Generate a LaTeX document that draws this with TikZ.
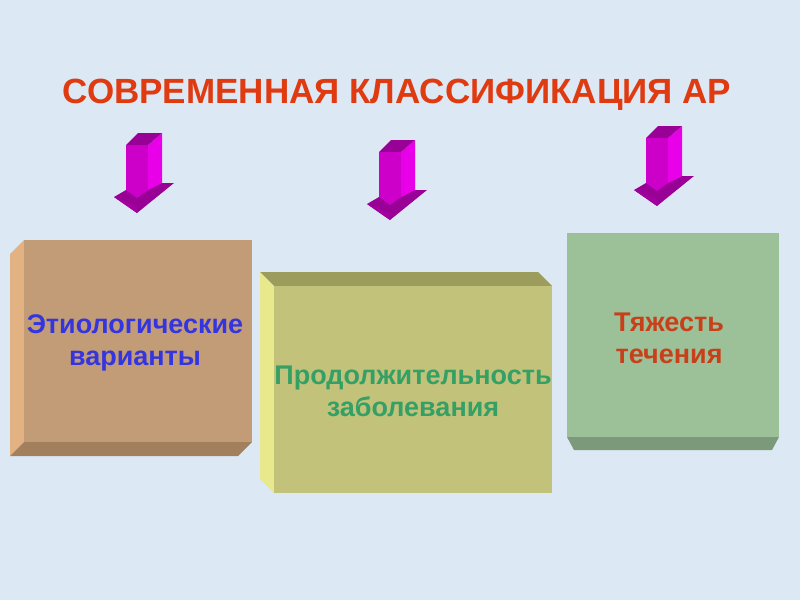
\documentclass[tikz,border=0pt]{standalone}
\usepackage{fontspec}
\setmainfont{Liberation Sans}
\definecolor{bg}{HTML}{DCE9F5}
\definecolor{ttl}{HTML}{E03A10}
\definecolor{mA}{HTML}{CC00C8}
\definecolor{mB}{HTML}{E800E8}
\definecolor{mC}{HTML}{990096}
\definecolor{bA}{HTML}{C29C76}\definecolor{bAl}{HTML}{E2B282}\definecolor{bAb}{HTML}{A2805E}
\definecolor{gA}{HTML}{C2C27A}\definecolor{gAt}{HTML}{9C9C5C}\definecolor{gAl}{HTML}{E8E88C}
\definecolor{vA}{HTML}{9CC098}\definecolor{vAb}{HTML}{7C9A7A}
\definecolor{tBlue}{HTML}{3535E0}\definecolor{tGreen}{HTML}{35A065}\definecolor{tRed}{HTML}{C8401A}
\tikzset{lbl/.style={font=\bfseries\fontsize{27}{32}\selectfont,align=center},
 arr/.pic={
  \fill[mC] (114,197)--(126,190)--(162,183)--(174,183)--(137,213)--cycle;
  \fill[mA!80!black] (114,197)--(137,213)--(137,206)--cycle;
  \fill[mB] (148,145)--(162,133)--(162,183)--(148,190)--cycle;
  \fill[mC] (126,145)--(138,133)--(162,133)--(148,145)--cycle;
  \fill[mA] (126,145) rectangle (148,190);
  \fill[mA] (126,190)--(148,190)--(137,198)--cycle;
 }}
\begin{document}
\begin{tikzpicture}[x=1pt,y=-1pt]
\fill[bg] (0,0) rectangle (800,600);
\useasboundingbox (0,0) rectangle (800,600);
\node[text=ttl,font=\bfseries\fontsize{35}{40}\selectfont] (title) at (397,95) {СОВРЕМЕННАЯ КЛАССИФИКАЦИЯ АР};
\pic at (0,0) {arr};
\pic at (253,7) {arr};
\pic at (520,-7) {arr};
% box 1
\fill[bAl] (10,254)--(24,240)--(24,442)--(10,456)--cycle;
\fill[bAb] (10,456)--(24,442)--(252,442)--(238,456)--cycle;
\fill[bA] (24,240) rectangle (252,442);
\node[lbl,text=tBlue] (b1) at (135,343) {Этиологические\\варианты};
% box 2
\fill[gAt] (260,272)--(538,272)--(552,286)--(274,286)--cycle;
\fill[gAl] (260,272)--(274,286)--(274,493)--(260,479)--cycle;
\fill[gA] (274,286) rectangle (552,493);
\node[lbl,text=tGreen] (b2) at (413,391) {Продолжительность\\заболевания};
% box 3
\fill[vAb] (567,437)--(779,437)--(772,450)--(574,450)--cycle;
\fill[vA] (567,233) rectangle (779,437);
\node[lbl,text=tRed] (b3) at (669,338) {Тяжесть\\течения};
\end{tikzpicture}
\end{document}
